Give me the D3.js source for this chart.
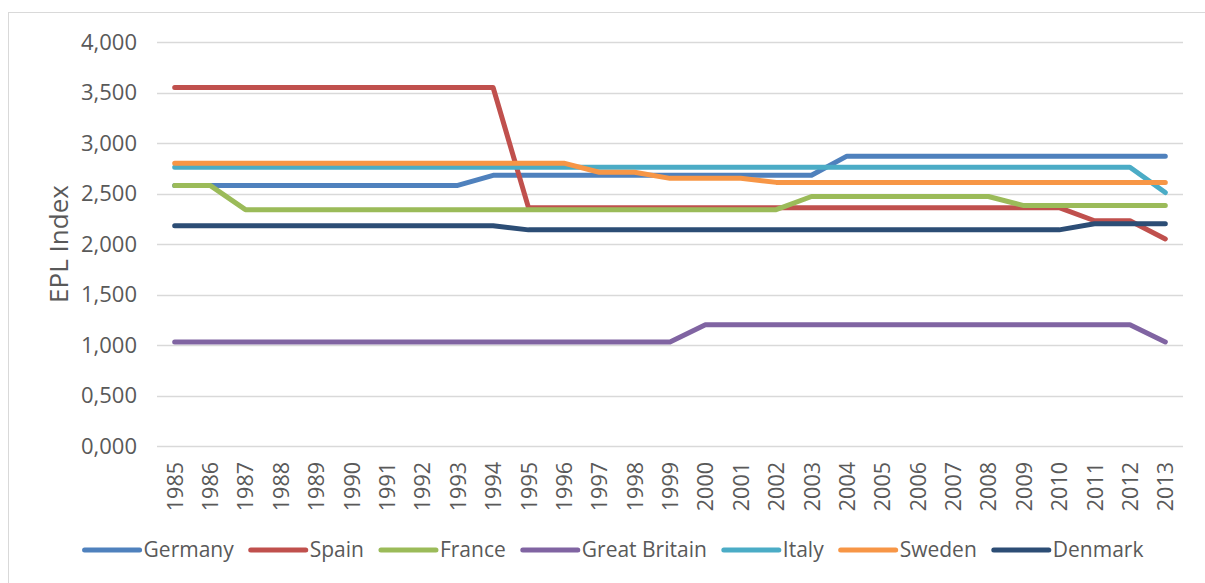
<!DOCTYPE html>
<html>
<head>
<meta charset="utf-8">
<script src="https://cdn.jsdelivr.net/npm/d3@7"></script>
<style>
  body { margin: 0; background: #fff; }
  svg { display: block; font-family: "Open Sans", sans-serif; }
</style>
</head>
<body>
<div class="chart"></div>
<script>
var years = ["1985","1986","1987","1988","1989","1990","1991","1992","1993","1994",
             "1995","1996","1997","1998","1999","2000","2001","2002","2003","2004",
             "2005","2006","2007","2008","2009","2010","2011","2012","2013"];

var countries = ["Germany", "Spain", "France", "Great Britain", "Italy", "Sweden", "Denmark"];
var colors = ["#4f81bd", "#c0504d", "#9bbb59", "#8064a2", "#4bacc6", "#f79646", "#2c4d75"];

var germany = [2.58,2.58,2.58,2.58,2.58,2.58,2.58,2.58,2.58,2.68,
               2.68,2.68,2.68,2.68,2.68,2.68,2.68,2.68,2.68,2.87,
               2.87,2.87,2.87,2.87,2.87,2.87,2.87,2.87,2.87];
var spain = [3.55,3.55,3.55,3.55,3.55,3.55,3.55,3.55,3.55,3.55,
             2.36,2.36,2.36,2.36,2.36,2.36,2.36,2.36,2.36,2.36,
             2.36,2.36,2.36,2.36,2.36,2.36,2.23,2.23,2.05];
var france = [2.58,2.58,2.34,2.34,2.34,2.34,2.34,2.34,2.34,2.34,
              2.34,2.34,2.34,2.34,2.34,2.34,2.34,2.34,2.47,2.47,
              2.47,2.47,2.47,2.47,2.38,2.38,2.38,2.38,2.38];
var greatBritain = [1.03,1.03,1.03,1.03,1.03,1.03,1.03,1.03,1.03,1.03,
                    1.03,1.03,1.03,1.03,1.03,1.20,1.20,1.20,1.20,1.20,
                    1.20,1.20,1.20,1.20,1.20,1.20,1.20,1.20,1.03];
var italy = [2.76,2.76,2.76,2.76,2.76,2.76,2.76,2.76,2.76,2.76,
             2.76,2.76,2.76,2.76,2.76,2.76,2.76,2.76,2.76,2.76,
             2.76,2.76,2.76,2.76,2.76,2.76,2.76,2.76,2.51];
var sweden = [2.80,2.80,2.80,2.80,2.80,2.80,2.80,2.80,2.80,2.80,
              2.80,2.80,2.71,2.71,2.65,2.65,2.65,2.61,2.61,2.61,
              2.61,2.61,2.61,2.61,2.61,2.61,2.61,2.61,2.61];
var denmark = [2.18,2.18,2.18,2.18,2.18,2.18,2.18,2.18,2.18,2.18,
               2.14,2.14,2.14,2.14,2.14,2.14,2.14,2.14,2.14,2.14,
               2.14,2.14,2.14,2.14,2.14,2.14,2.20,2.20,2.20];

var yTicks = [0, 0.5, 1, 1.5, 2, 2.5, 3, 3.5, 4];

var series = [germany, spain, france, greatBritain, italy, sweden, denmark];

var W = 1205, H = 583;
var textColor = "#595959";

var svg = d3.select(".chart")
  .append("svg")
  .attr("width", W)
  .attr("height", H);

// chart area border
svg.append("rect")
  .attr("x", 8.5).attr("y", 12.5)
  .attr("width", W + 20).attr("height", H + 20)
  .attr("fill", "none")
  .attr("stroke", "#d9d9d9");

var x = d3.scalePoint()
  .domain(years)
  .range([157, 1183])
  .padding(0.5);

var y = d3.scaleLinear()
  .domain([0, 4])
  .range([446, 42]);

var fmt = function(d){ return d3.format(",.3f")(d).replace(".", ","); };

// gridlines
svg.append("g")
  .selectAll("line")
  .data(yTicks)
  .enter()
  .append("line")
  .attr("x1", 157).attr("x2", 1183)
  .attr("y1", function(d){ return Math.round(y(d)) + 0.5; })
  .attr("y2", function(d){ return Math.round(y(d)) + 0.5; })
  .attr("stroke", "#d9d9d9")
  .attr("stroke-width", 1.3);

// y axis
var yAxis = svg.append("g")
  .attr("transform", "translate(157,0)")
  .call(d3.axisLeft(y).tickValues(yTicks).tickFormat(fmt).tickSize(0).tickPadding(20));
yAxis.select(".domain").remove();
yAxis.selectAll("text")
  .attr("font-family", "Open Sans")
  .attr("font-size", "22px")
  .attr("fill", textColor);

// x axis
var xAxis = svg.append("g")
  .attr("transform", "translate(0,446)")
  .call(d3.axisBottom(x).tickSize(0));
xAxis.select(".domain").remove();
xAxis.selectAll("text")
  .attr("font-family", "Open Sans")
  .attr("font-size", "21.5px")
  .attr("fill", textColor)
  .attr("transform", "rotate(-90)")
  .attr("text-anchor", "end")
  .attr("x", -16)
  .attr("y", 0)
  .attr("dy", "0.35em");

// y title
svg.append("text")
  .attr("transform", "translate(59,244) rotate(-90)")
  .attr("text-anchor", "middle")
  .attr("dy", "0.35em")
  .attr("font-size", "26px")
  .attr("fill", textColor)
  .text("EPL Index");

// lines
var line = d3.line()
  .x(function(d, i){ return x(years[i]); })
  .y(function(d){ return y(d); });

svg.append("g")
  .selectAll("path")
  .data(series)
  .enter()
  .append("path")
  .attr("d", line)
  .attr("fill", "none")
  .attr("stroke", function(d, i){ return colors[i]; })
  .attr("stroke-width", 5)
  .attr("stroke-linecap", "round")
  .attr("stroke-linejoin", "round");

// legend
var legend = svg.append("g");
var items = legend.selectAll("g")
  .data(countries)
  .enter()
  .append("g");

items.append("line")
  .attr("x1", 0).attr("x2", 55)
  .attr("y1", 0).attr("y2", 0)
  .attr("stroke", function(d, i){ return colors[i]; })
  .attr("stroke-width", 5)
  .attr("stroke-linecap", "round");

items.append("text")
  .attr("x", 59)
  .attr("dy", "0.35em")
  .attr("font-size", "21px")
  .attr("fill", textColor)
  .text(function(d){ return d; });

var pos = 0, offsets = [];
items.each(function(d){
  offsets.push(pos);
  var w = d3.select(this).select("text").node().getComputedTextLength();
  pos += 59 + w + 17;
});
var total = pos - 17;
var start = 614 - total / 2;
items.attr("transform", function(d, i){ return "translate(" + (start + offsets[i]) + ",550)"; });
</script>
</body>
</html>
